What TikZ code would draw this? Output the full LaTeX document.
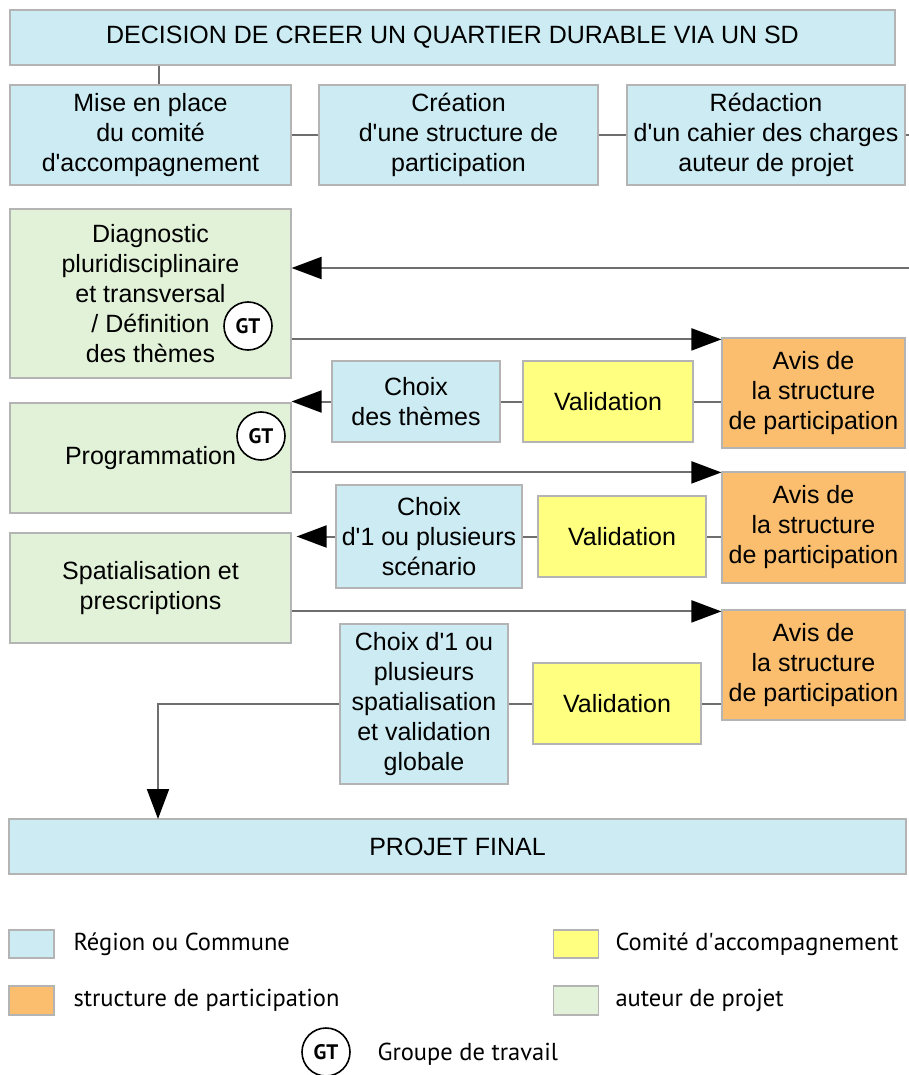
\documentclass[tikz,border=0pt]{standalone}
\usepackage{fontspec}
\setmainfont{Liberation Sans}
\newfontfamily\legendfont{PT Sans}
\usetikzlibrary{arrows.meta}

\definecolor{regionblue}{RGB}{204,235,242}
\definecolor{auteurgreen}{RGB}{226,242,217}
\definecolor{comiteyellow}{RGB}{255,255,128}
\definecolor{structorange}{RGB}{250,190,110}
\definecolor{boxline}{RGB}{180,180,180}
\definecolor{linkgray}{RGB}{110,110,110}

\newcommand{\ap}{\textquotesingle}

\tikzset{
  box/.style={draw=boxline, line width=1.2pt, align=center, inner sep=0pt,
    font=\fontsize{25}{30}\selectfont},
  region/.style={box, fill=regionblue},
  auteur/.style={box, fill=auteurgreen},
  comite/.style={box, fill=comiteyellow},
  struct/.style={box, fill=structorange},
  gt/.style={circle, draw=black, line width=1.6pt, fill=white, minimum size=48pt,
    inner sep=0pt, font=\legendfont\bfseries\fontsize{21}{21}\selectfont},
  link/.style={draw=linkgray, line width=2pt},
  arr/.style={link, -{Triangle[length=30pt,width=22pt,color=black]}},
  legendtxt/.style={anchor=west, font=\legendfont\fontsize{24.5}{24.5}\selectfont}
}

\begin{document}
\begin{tikzpicture}[x=1pt,y=-1pt]
  \useasboundingbox[fill=white] (0,0) rectangle (909,1075);
  \coordinate (redout) at (909,135);
  \coordinate (diagin) at (909,268);
  \coordinate (drop) at (158,819);
% top of the process
\node[region, minimum width=885, minimum height=55] (decision) at (452.5,37.5)
  {DECISION DE CREER UN QUARTIER DURABLE VIA UN SD};
\node[region, minimum width=281, minimum height=100] (mise) at (150.5,135)
  {Mise en place\\du comité\\d\ap accompagnement};
\node[region, minimum width=279, minimum height=100] (creation) at (458.5,135)
  {Création\\d\ap une structure de\\participation};
\node[region, minimum width=278, minimum height=100] (redaction) at (766,135)
  {Rédaction\\d\ap un cahier des charges\\auteur de projet};
% steps of the auteur de projet
\node[auteur, minimum width=281, minimum height=169] (diag) at (150.5,293.5)
  {Diagnostic\\pluridisciplinaire\\et transversal\\/ Définition\\des thèmes};
\node[auteur, minimum width=281, minimum height=110] (prog) at (150.5,458)
  {Programmation};
\node[auteur, minimum width=281, minimum height=110] (spat) at (150.5,588)
  {Spatialisation et\\prescriptions};
\node[gt] (gtdiag) at (248,326) {GT};
\node[gt] (gtprog) at (261,436) {GT};
% choices, validation, avis
\node[region, minimum width=168, minimum height=81] (choixA) at (416,401.5)
  {Choix\\des thèmes};
\node[comite, minimum width=170, minimum height=81] (validA) at (608,401.5)
  {Validation};
\node[struct, minimum width=183, minimum height=110] (avisA) at (813.5,393)
  {Avis de\\la structure\\de participation};
\node[region, minimum width=186, minimum height=103] (choixB) at (429,536.5)
  {Choix\\d\ap 1 ou plusieurs\\scénario};
\node[comite, minimum width=168, minimum height=81] (validB) at (622,536.5)
  {Validation};
\node[struct, minimum width=183, minimum height=111] (avisB) at (813.5,527.5)
  {Avis de\\la structure\\de participation};
\node[region, minimum width=168, minimum height=160] (choixC) at (424,704)
  {Choix d\ap 1 ou\\plusieurs\\spatialisation\\et validation\\globale};
\node[comite, minimum width=168, minimum height=81] (validC) at (617,703.5)
  {Validation};
\node[struct, minimum width=183, minimum height=110] (avisC) at (813.5,665)
  {Avis de\\la structure\\de participation};
\node[region, minimum width=897, minimum height=55] (final) at (457.5,846.5)
  {PROJET FINAL};
% connectors
\draw[link] ([xshift=8pt]mise.north) -- ([xshift=8pt]mise.north |- decision.south);
\draw[link] (mise.east) -- (creation.west);
\draw[link] (creation.east) -- (redaction.west);
\draw[link] (redaction.east) -- (redout);
\draw[arr] (diagin) -- (diagin -| diag.east);
\draw[arr] ([yshift=-2pt]avisA.north west -| diag.east) -- ([yshift=-2pt]avisA.north west);
\draw[link] (validA.east) -- (validA.east -| avisA.west);
\draw[link] (validA.west) -- (choixA.east);
\draw[arr] (choixA.west) -- (choixA.west -| prog.east);
\draw[arr] ([yshift=-1pt]avisB.north west -| prog.east) -- ([yshift=-1pt]avisB.north west);
\draw[link] (validB.east) -- (validB.east -| avisB.west);
\draw[link] (validB.west) -- (choixB.east);
\draw[arr] (choixB.west) -- ([xshift=5pt]choixB.west -| spat.east);
\draw[arr] ([yshift=-2pt]avisC.north west -| spat.east) -- ([yshift=-2pt]avisC.north west);
\draw[link] (validC.east) -- (validC.east -| avisC.west);
\draw[link] (validC.west) -- (validC.west -| choixC.east);
\draw[arr] (choixC.west) -| (drop);
% legend
\node[region, minimum width=45, minimum height=28] (legregion) at (31.5,944) {};
\node[legendtxt] (legregiontxt) at (70,944) {Région ou Commune};
\node[comite, minimum width=45, minimum height=28] (legcomite) at (576,944) {};
\node[legendtxt] (legcomitetxt) at (612,944) {Comité d\ap accompagnement};
\node[struct, minimum width=45, minimum height=29] (legstruct) at (31.5,1000.5) {};
\node[legendtxt] (legstructtxt) at (70,1000) {structure de participation};
\node[auteur, minimum width=45, minimum height=29] (legauteur) at (576,1000.5) {};
\node[legendtxt] (legauteurtxt) at (612,1000) {auteur de projet};
\node[gt] (leggt) at (326,1052) {GT};
\node[legendtxt] (leggttxt) at (374,1054) {Groupe de travail};
\end{tikzpicture}
\end{document}
